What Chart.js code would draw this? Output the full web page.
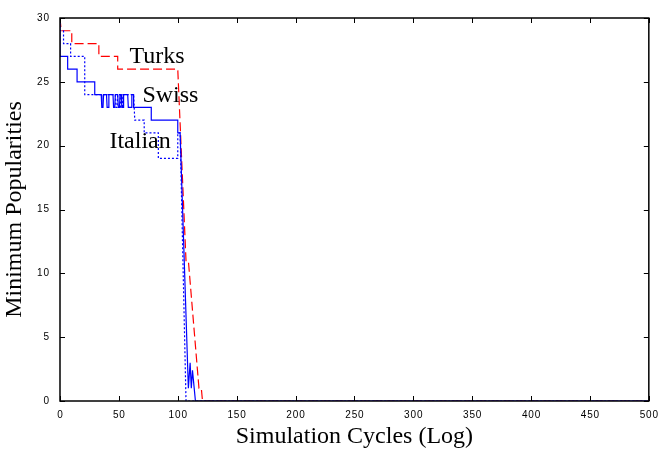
<!DOCTYPE html>
<html>
<head>
<meta charset="utf-8">
<script src="https://cdn.jsdelivr.net/npm/chart.js@4/dist/chart.umd.min.js"></script>
<style>
  html, body { margin: 0; padding: 0; background: #fff; }
  #wrap { width: 666px; height: 449px; }
</style>
</head>
<body>
<div id="wrap"><canvas id="popChart" width="666" height="449"></canvas></div>
<script>
// values (x = cycle, y = minimum popularity)
var turks = [[0,30],[1,29],[10,29],[10,28],[33,28],[33,27],[49,27],[49,26],[100,26],[107,11],[109,11],[118,1],[120,1],[121,0],[500,0]];
var swiss = [[0,30],[0,27],[6.5,27],[6.5,26],[14.5,26],[14.5,25],[29.5,25],[29.5,24],[35,24],[35.5,23],[36.5,23],[37,24],
    [39.5,24],[40,23],[41,23],[41.5,24],[45,24],[45.5,23],[46.5,23],[47,24],[49,24],[49.5,23],[50.5,23],[51,24],
    [52,24],[52.5,23],[53.5,23],[54,24],[57.5,24],[58,23],[60.5,23],[61,24],[62.5,24],[62.5,23],[77.5,23],[77.5,22],
    [100,22],[100,21],[102,21],[109,1],[110.5,3],[111.5,1],[112.5,2.4],[115,0],[500,0]];
var italian = [[0,30],[0,29],[3,29],[3,28],[9,28],[9,27],[21,27],[21,24],[47,24],[47.5,23],[48.5,23],[49,24],
    [51,24],[51.5,23],[53,23],[53.5,24],[62.5,24],[63.5,22],[71.5,22],[71.5,21],[83.5,21],[83.5,19],[100,19],
    [100,21],[102,21],[107,0],[500,0]];

var xTicks = [0,50,100,150,200,250,300,350,400,450,500];
var yTicks = [0,5,10,15,20,25,30];

// where the series names sit, in data units
var seriesLabels = [
    {text: "Turks", x: 59, y: 26.5},
    {text: "Swiss", x: 70, y: 23.4},
    {text: "Italian", x: 42, y: 19.8}
];

function pts(arr) {
    return arr.map(function (p) { return {x: p[0], y: p[1]}; });
}

function spaced(v) {
    return String(v).split("").join("\u200A");
}

var serif = "'Liberation Serif', 'Times New Roman', serif";
var sans = "'Liberation Sans', Arial, sans-serif";

// box, inward ticks on all four sides, and the series names
var framePlugin = {
    id: "frame",
    afterDraw: function (chart) {
        var ctx = chart.ctx, a = chart.chartArea;
        var xs = chart.scales.x, ys = chart.scales.y;
        ctx.save();
        ctx.strokeStyle = "#000";
        ctx.lineWidth = 1.5;
        ctx.strokeRect(a.left, a.top, a.right - a.left, a.bottom - a.top);
        ctx.lineWidth = 1;
        ctx.beginPath();
        xTicks.forEach(function (v) {
            var px = Math.round(xs.getPixelForValue(v)) + 0.5;
            ctx.moveTo(px, a.bottom); ctx.lineTo(px, a.bottom - 5);
            ctx.moveTo(px, a.top); ctx.lineTo(px, a.top + 5);
        });
        yTicks.forEach(function (v) {
            var py = Math.round(ys.getPixelForValue(v)) + 0.5;
            ctx.moveTo(a.left, py); ctx.lineTo(a.left + 5, py);
            ctx.moveTo(a.right, py); ctx.lineTo(a.right - 5, py);
        });
        ctx.stroke();

        ctx.fillStyle = "#000";
        ctx.font = "24px " + serif;
        ctx.textAlign = "left";
        ctx.textBaseline = "alphabetic";
        seriesLabels.forEach(function (l) {
            ctx.fillText(l.text, xs.getPixelForValue(l.x), ys.getPixelForValue(l.y));
        });
        ctx.restore();
    }
};

new Chart(document.getElementById("popChart"), {
    type: "scatter",
    data: {
        datasets: [
            {
                label: "Swiss",
                data: pts(swiss),
                showLine: true,
                borderColor: "#0000ff",
                borderWidth: 1.2,
                pointRadius: 0,
            },
            {
                label: "Italian",
                data: pts(italian),
                showLine: true,
                borderColor: "#0000ff",
                borderWidth: 1.2,
                borderDash: [2, 2],
                pointRadius: 0,
            },
            {
                label: "Turks",
                data: pts(turks),
                showLine: true,
                borderColor: "#ff0000",
                borderWidth: 1.2,
                borderDash: [9, 4],
                pointRadius: 0,
            },
        ],
    },
    options: {
        responsive: false,
        animation: false,
        layout: { padding: { top: 18, right: 14, left: 0, bottom: 0 } },
        plugins: {
            legend: { display: false },
            tooltip: { enabled: false },
        },
        scales: {
            x: {
                type: "linear",
                min: 0,
                max: 500,
                afterFit: function (s) { s.height = 48; },
                afterBuildTicks: function (s) { s.ticks = xTicks.map(function (v) { return {value: v}; }); },
                grid: { display: false, drawTicks: false },
                border: { display: false },
                ticks: {
                    padding: 8,
                    color: "#000",
                    font: { family: sans, size: 10 },
                    maxRotation: 0,
                    callback: function (v) { return spaced(v); },
                },
                title: {
                    display: true,
                    text: "Simulation Cycles (Log)",
                    color: "#000",
                    font: { family: serif, size: 24, lineHeight: 1.0 },
                    padding: { top: 0, bottom: 0 },
                },
            },
            y: {
                type: "linear",
                min: 0,
                max: 30,
                afterFit: function (s) { s.width = 60; },
                afterBuildTicks: function (s) { s.ticks = yTicks.map(function (v) { return {value: v}; }); },
                grid: { display: false, drawTicks: false },
                border: { display: false },
                ticks: {
                    padding: 11,
                    color: "#000",
                    font: { family: sans, size: 10 },
                    callback: function (v) { return spaced(v); },
                },
                title: {
                    display: true,
                    text: "Minimum Popularities",
                    color: "#000",
                    font: { family: serif, size: 24 },
                    padding: { top: 0, bottom: 0 },
                },
            },
        },
    },
    plugins: [framePlugin],
});
</script>
</body>
</html>
